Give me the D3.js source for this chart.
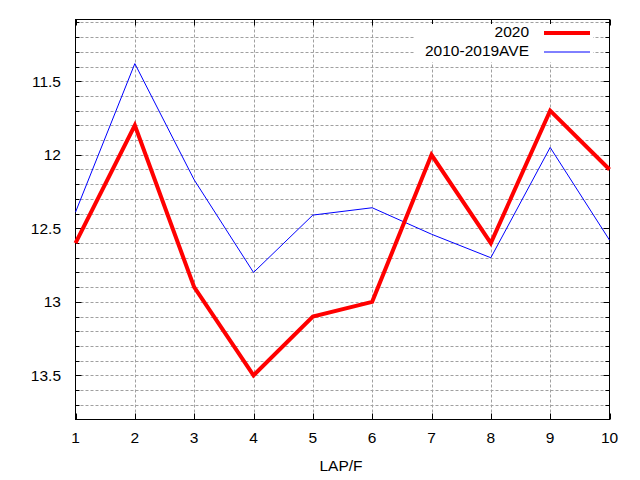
<!DOCTYPE html>
<html>
<head>
<meta charset="utf-8">
<script src="https://cdn.jsdelivr.net/npm/d3@7"></script>
<style>
  body { margin: 0; background: #fff; }
  text { font-family: "Liberation Sans", Arial, sans-serif; font-size: 15.5px; fill: #000; }
</style>
</head>
<body>
<svg id="chart" width="640" height="480"></svg>
<script>
// laps and lap times
var laps = [1, 2, 3, 4, 5, 6, 7, 8, 9, 10];
var times2020 = [12.6, 11.8, 12.9, 13.5, 13.1, 13.0, 12.0, 12.6, 11.7, 12.1];
var timesAve = [12.39, 11.38, 12.17, 12.8, 12.41, 12.36, 12.54, 12.7, 11.95, 12.58];
var yTickLabels = [11.5, 12, 12.5, 13, 13.5];
var seriesNames = ["2020", "2010-2019AVE"];

var svg = d3.select("#chart");
var plotL = 75.5, plotR = 609.5, plotT = 19.5, plotB = 419.5;

var x = d3.scaleLinear().domain([1, 10]).range([plotL, plotR]);
var y = d3.scaleLinear().domain([11.08, 13.8]).range([plotT, plotB]);

// minor values every 0.1
var minorY = d3.range(111, 138).map(function(d) { return d / 10; });

var grid = svg.append("g")
  .attr("stroke", "#a0a0a0")
  .attr("stroke-width", 1)
  .attr("stroke-dasharray", "3,2");

grid.selectAll("line.h").data(minorY).enter()
  .append("line")
  .attr("class", "h")
  .attr("x1", plotL).attr("x2", plotR)
  .attr("y1", function(d) { return Math.round(y(d)) + 0.5; })
  .attr("y2", function(d) { return Math.round(y(d)) + 0.5; });

grid.selectAll("line.v").data(laps.slice(1, 9)).enter()
  .append("line")
  .attr("class", "v")
  .attr("y1", plotT).attr("y2", plotB)
  .attr("x1", function(d) { return Math.round(x(d)) + 0.5; })
  .attr("x2", function(d) { return Math.round(x(d)) + 0.5; });

// ticks on all four sides
function isMajor(d) { return Math.abs(d * 2 - Math.round(d * 2)) < 1e-6; }
var ticks = svg.append("g").attr("stroke", "#000").attr("stroke-width", 1);
ticks.selectAll("line.l").data(minorY).enter()
  .append("line")
  .attr("x1", plotL)
  .attr("x2", function(d) { return plotL + (isMajor(d) ? 6 : 4); })
  .attr("y1", function(d) { return Math.round(y(d)) + 0.5; })
  .attr("y2", function(d) { return Math.round(y(d)) + 0.5; });
ticks.selectAll("line.r").data(minorY).enter()
  .append("line")
  .attr("x1", plotR)
  .attr("x2", function(d) { return plotR - (isMajor(d) ? 6 : 4); })
  .attr("y1", function(d) { return Math.round(y(d)) + 0.5; })
  .attr("y2", function(d) { return Math.round(y(d)) + 0.5; });
ticks.selectAll("line.b").data(laps).enter()
  .append("line")
  .attr("y1", plotB).attr("y2", plotB - 6)
  .attr("x1", function(d) { return Math.round(x(d)) + 0.5; })
  .attr("x2", function(d) { return Math.round(x(d)) + 0.5; });
ticks.selectAll("line.t").data(laps).enter()
  .append("line")
  .attr("y1", plotT).attr("y2", plotT + 6)
  .attr("x1", function(d) { return Math.round(x(d)) + 0.5; })
  .attr("x2", function(d) { return Math.round(x(d)) + 0.5; });

svg.append("rect")
  .attr("x", plotL).attr("y", plotT)
  .attr("width", plotR - plotL).attr("height", plotB - plotT)
  .attr("fill", "none").attr("stroke", "#000").attr("stroke-width", 1);

// tick labels
svg.selectAll("text.ylab").data(yTickLabels).enter()
  .append("text")
  .attr("class", "ylab")
  .attr("x", 61)
  .attr("y", function(d) { return y(d) + 5.5; })
  .attr("text-anchor", "end")
  .text(function(d) { return d; });

svg.selectAll("text.xlab").data(laps).enter()
  .append("text")
  .attr("class", "xlab")
  .attr("x", function(d) { return x(d); })
  .attr("y", 443)
  .attr("text-anchor", "middle")
  .text(function(d) { return d; });

svg.append("text")
  .attr("x", 341)
  .attr("y", 471)
  .attr("text-anchor", "middle")
  .text("LAP/F");

// lines
var line = d3.line()
  .x(function(d, i) { return x(laps[i]); })
  .y(function(d) { return y(d); });

svg.append("path")
  .datum(timesAve)
  .attr("d", line)
  .attr("fill", "none")
  .attr("stroke", "#0000ff")
  .attr("stroke-width", 1);

svg.append("path")
  .datum(times2020)
  .attr("d", line)
  .attr("fill", "none")
  .attr("stroke", "#ff0000")
  .attr("stroke-width", 4)
  .attr("stroke-linejoin", "miter");

// legend
svg.append("rect")
  .attr("x", 415).attr("y", 24)
  .attr("width", 178).attr("height", 38)
  .attr("fill", "#fff");

var legendColors = ["#ff0000", "#0000ff"];
var legendWidths = [4, 1];
var key = svg.selectAll("g.key").data(seriesNames).enter()
  .append("g")
  .attr("class", "key")
  .attr("transform", function(d, i) { return "translate(0," + (33 + i * 19) + ")"; });

key.append("text")
  .attr("x", 529)
  .attr("y", 4)
  .attr("text-anchor", "end")
  .text(function(d) { return d; });

key.append("line")
  .attr("x1", 544).attr("x2", 590)
  .attr("y1", 0).attr("y2", 0)
  .attr("stroke", function(d, i) { return legendColors[i]; })
  .attr("stroke-width", function(d, i) { return legendWidths[i]; });
</script>
</body>
</html>
